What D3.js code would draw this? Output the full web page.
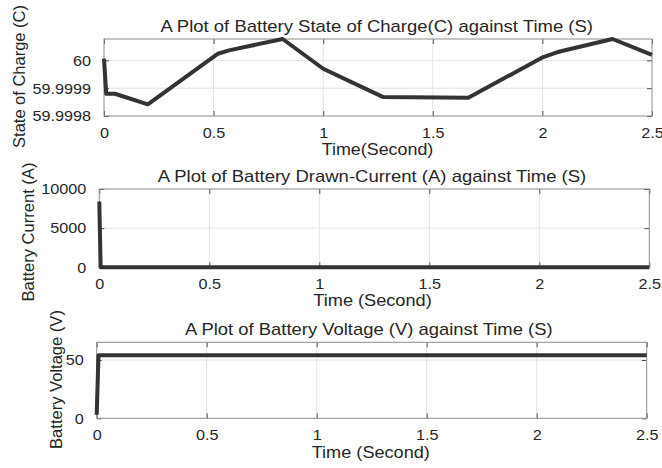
<!DOCTYPE html>
<html>
<head>
<meta charset="utf-8">
<script src="https://cdn.jsdelivr.net/npm/d3@7"></script>
<style>
  html, body { margin: 0; padding: 0; background: #fff; }
  svg text { font-family: "Liberation Sans", Arial, sans-serif; fill: #262626; }
</style>
</head>
<body>
<svg id="fig" width="662" height="468"></svg>
<script>
// Simulation results: battery state of charge, drawn current and terminal voltage
const socTime    = [0, 0.01, 0.05, 0.2, 0.52, 0.57, 0.815, 1.0, 1.274, 1.662, 2.004, 2.07, 2.32, 2.5];
const socValue   = [60.000006, 59.99988, 59.99988, 59.999842, 60.000024, 60.000036, 60.000077,
                    59.99997, 59.999868, 59.999866, 60.000012, 60.00003, 60.000077, 60.00002];
const currentTime  = [0, 0.006, 2.5];
const currentValue = [8400, 20, 20];
const voltageTime  = [0, 0.008, 2.5];
const voltageValue = [3, 54, 54];

const timeTicks = [0, 0.5, 1, 1.5, 2, 2.5];
const socTicks = [59.9998, 59.9999, 60];
const currentTicks = [0, 5000, 10000];
const voltageTicks = [0, 50];

const svg = d3.select("#fig");
const TICK_STRETCH = 1.08;

// Horizontal scale factor that makes a text element span a given width.
function fitWidth(sel, width) {
  const w = sel.node().getComputedTextLength();
  return w > 0 ? width / w : 1;
}

const panels = [
  { t: socTime, v: socValue, box: [104, 39, 652, 116], yDomain: [59.9998, 60.000077],
    yTicks: socTicks, fmt: d => String(+d.toFixed(4)),
    title: "A Plot of Battery State of Charge(C) against Time (S)", titleY: 32, titleX: 376.7, titleW: 433,
    xlabel: "Time(Second)", xlabelY: 155, xlabelX: 377.5, xlabelW: 111.7,
    ylabel: "State of Charge (C)", ylabelX: 25, ylabelY: 76.5, ylabelW: 143 },
  { t: currentTime, v: currentValue, box: [99.3, 189, 649.3, 267.3], yDomain: [0, 10000],
    yTicks: currentTicks, fmt: d => String(d),
    title: "A Plot of Battery Drawn-Current (A) against Time (S)", titleY: 182, titleX: 372, titleW: 429,
    xlabel: "Time (Second)", xlabelY: 306, xlabelX: 372.5, xlabelW: 118.4,
    ylabel: "Battery Current (A)", ylabelX: 34, ylabelY: 232, ylabelW: 139 },
  { t: voltageTime, v: voltageValue, box: [96.7, 342.3, 646.7, 418.3], yDomain: [0, 65.2],
    yTicks: voltageTicks, fmt: d => String(d),
    title: "A Plot of Battery Voltage (V) against Time (S)", titleY: 335, titleX: 368.8, titleW: 367.7,
    xlabel: "Time (Second)", xlabelY: 458, xlabelX: 370.8, xlabelW: 118.3,
    ylabel: "Battery Voltage (V)", ylabelX: 61.5, ylabelY: 379.5, ylabelW: 139 }
];

panels.forEach(p => {
  const [x0, y0, x1, y1] = p.box;
  const x = d3.scaleLinear().domain([0, 2.5]).range([x0, x1]);
  const y = d3.scaleLinear().domain(p.yDomain).range([y1, y0]);
  const g = svg.append("g");

  // grid
  g.append("g").selectAll("line").data(timeTicks.slice(1, -1)).join("line")
    .attr("x1", d => x(d)).attr("x2", d => x(d)).attr("y1", y0).attr("y2", y1)
    .attr("stroke", "#e3e3e3").attr("stroke-width", 1);
  g.append("g").selectAll("line").data(p.yTicks.filter(d => y(d) > y0 + 1 && y(d) < y1 - 1)).join("line")
    .attr("x1", x0).attr("x2", x1).attr("y1", d => y(d)).attr("y2", d => y(d))
    .attr("stroke", "#e3e3e3").attr("stroke-width", 1);

  // axes with inward ticks on all four sides
  const bottom = d3.axisBottom(x).tickValues(timeTicks).tickSize(-5).tickPadding(11)
    .tickFormat(d => String(d));
  const left = d3.axisLeft(y).tickValues(p.yTicks).tickSize(-5).tickPadding(13).tickFormat(p.fmt);
  const top = d3.axisTop(x).tickValues(timeTicks).tickSize(-5).tickFormat("");
  const right = d3.axisRight(y).tickValues(p.yTicks).tickSize(-5).tickFormat("");

  const styleAxis = sel => {
    sel.select(".domain").remove();
    sel.selectAll(".tick line").attr("stroke", "#262626").attr("stroke-width", 0.8);
    sel.selectAll(".tick text").attr("font-size", 15).attr("fill", "#262626")
      .attr("font-family", "Liberation Sans, Arial, sans-serif");
  };
  const gb = g.append("g").attr("transform", `translate(0,${y1})`).call(bottom).call(styleAxis);
  const gl = g.append("g").attr("transform", `translate(${x0},0)`).call(left).call(styleAxis);
  g.append("g").attr("transform", `translate(0,${y0})`).call(top).call(styleAxis);
  g.append("g").attr("transform", `translate(${x1},0)`).call(right).call(styleAxis);

  // widen tick labels slightly about their anchor points
  gb.selectAll(".tick text").attr("transform", `scale(${TICK_STRETCH},1)`);
  gl.selectAll(".tick text").each(function () {
    const t = d3.select(this);
    t.attr("x", +t.attr("x") / TICK_STRETCH).attr("transform", `scale(${TICK_STRETCH},1)`);
  });

  // box
  g.append("rect").attr("x", x0).attr("y", y0).attr("width", x1 - x0).attr("height", y1 - y0)
    .attr("fill", "none").attr("stroke", "#8c8c8c").attr("stroke-width", 1);

  // data line
  const pts = p.t.map((t, i) => [t, p.v[i]]);
  g.append("path").datum(pts)
    .attr("d", d3.line().x(d => x(d[0])).y(d => y(d[1])))
    .attr("fill", "none").attr("stroke", "#333333").attr("stroke-width", 4)
    .attr("stroke-linejoin", "round");

  // title and axis labels
  const title = g.append("text").attr("text-anchor", "middle").attr("font-size", 16).text(p.title);
  title.attr("transform", `translate(${p.titleX},${p.titleY}) scale(${fitWidth(title, p.titleW)},1)`);
  const xl = g.append("text").attr("text-anchor", "middle").attr("font-size", 16).text(p.xlabel);
  xl.attr("transform", `translate(${p.xlabelX},${p.xlabelY}) scale(${fitWidth(xl, p.xlabelW)},1)`);
  const yl = g.append("text").attr("text-anchor", "middle").attr("font-size", 16).text(p.ylabel);
  yl.attr("transform", `translate(${p.ylabelX},${p.ylabelY}) rotate(-90) scale(${fitWidth(yl, p.ylabelW)},1)`);
});
</script>
</body>
</html>
